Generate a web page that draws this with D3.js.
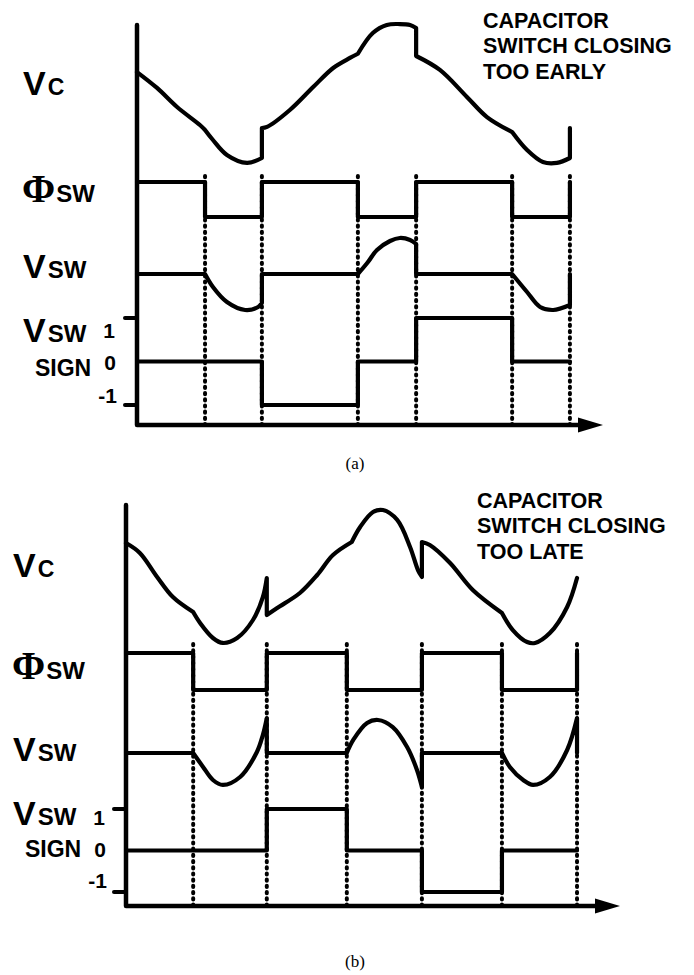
<!DOCTYPE html>
<html><head><meta charset="utf-8">
<script src="https://cdn.jsdelivr.net/npm/d3@7"></script>
<style>body{margin:0;background:#fff}</style>
</head><body>
<svg id="chart" width="694" height="975"></svg>
<script>
// ---------------- DATA ----------------
const timeDomain = [0, 100];
const signTicks = [1, 0, -1];
const signTickLabels = ["1", "0", "-1"];
const captions = ["(a)", "(b)"];
const notesA = ["CAPACITOR", "SWITCH CLOSING", "TOO EARLY"];
const notesB = ["CAPACITOR", "SWITCH CLOSING", "TOO LATE"];

// panel (a): switch closing too early
const switchTimesA = [14.6, 26.8, 47.4, 59.9, 80.5, 92.9];
const phiA = [[0,1],[14.6,0],[26.8,1],[47.4,0],[59.9,1],[80.5,0],[92.9,1]];
const signA = [[0,0],[26.8,-1],[47.4,0],[59.9,1],[80.5,0],[92.9,0]];
const vcA = [
  [[0,0.653],[4.3,0.547],[8.6,0.42],[13.5,0.30],[14.6,0.267]],
  [[14.6,0.267],[16.3,0.20],[19.3,0.10],[23.6,0.047],[26.8,0.08]],
  [[26.8,0.28],[27.9,0.287],[32.8,0.40],[37.8,0.553],[42.1,0.68],[45.7,0.747],[47.4,0.775]],
  [[47.4,0.775],[50.6,0.913],[53.6,0.967],[56.4,0.973],[58.6,0.967],[59.9,0.947]],
  [[59.9,0.76],[65.0,0.667],[70.8,0.487],[75.1,0.353],[80.5,0.253]],
  [[80.5,0.253],[83.7,0.133],[87.1,0.053],[90.1,0.047],[92.9,0.08]],
  [[92.9,0.28]]
];
const vswA = [
  [[0,0],[14.6,0]],
  [[14.6,0],[16.3,-0.087],[19.3,-0.187],[23.2,-0.24],[26.0,-0.22],[26.8,-0.193]],
  [[26.8,0],[47.4,0]],
  [[47.4,0],[49.4,0.073],[51.5,0.16],[54.3,0.22],[56.4,0.24],[58.6,0.227],[59.9,0.2]],
  [[59.9,0],[80.5,0]],
  [[80.5,0],[83.7,-0.12],[86.5,-0.22],[89.3,-0.24],[92.9,-0.207]],
  [[92.9,0]]
];

// panel (b): switch closing too late
const switchTimesB = [13.6, 28.5, 44.7, 59.9, 76.1, 91.3];
const phiB = [[0,1],[13.6,0],[28.5,1],[44.7,0],[59.9,1],[76.1,0],[91.3,1]];
const signB = [[0,0],[28.5,1],[44.7,0],[59.9,-1],[76.1,0],[91.3,0]];
const vcB = [
  [[0,0.713],[2.8,0.647],[6.3,0.487],[9.5,0.353],[13.6,0.253]],
  [[13.6,0.253],[15.0,0.18],[17.6,0.08],[19.6,0.047],[22.5,0.08],[25.7,0.2],[27.7,0.353],[28.5,0.48]],
  [[28.5,0.233],[30.6,0.28],[35.2,0.38],[38.7,0.50],[41.9,0.633],[45.7,0.72]],
  [[45.7,0.72],[47.4,0.82],[50.0,0.92],[52.0,0.933],[54.9,0.867],[57.5,0.687],[59.1,0.533],[59.9,0.487]],
  [[59.9,0.72],[61.5,0.70],[65.6,0.58],[70.2,0.40],[76.1,0.247]],
  [[76.1,0.247],[78.3,0.133],[81.2,0.053],[82.8,0.047],[85.8,0.113],[89.3,0.287],[91.3,0.48]]
];
const vswB = [
  [[0,0],[13.6,0]],
  [[13.6,0],[15.6,-0.093],[17.6,-0.18],[19.6,-0.213],[23.1,-0.16],[26.5,0.007],[27.7,0.12],[28.5,0.233]],
  [[28.5,0],[44.7,0]],
  [[44.7,0],[46.0,0.087],[48.8,0.2],[51.0,0.22],[54.0,0.173],[56.9,0.04],[58.9,-0.113],[59.9,-0.227]],
  [[59.9,0],[76.1,0]],
  [[76.1,0],[77.7,-0.093],[80.4,-0.18],[82.4,-0.213],[85.8,-0.16],[89.3,0.02],[91.3,0.233]],
  [[91.3,0]]
];

// ---------------- DRAW ----------------
const svg = d3.select("#chart");
const SANS = "'Liberation Sans', Arial, sans-serif";
const SERIF = "'Liberation Serif', 'Times New Roman', serif";

function buildPath(segs, x, y) {
  const line = d3.line().x(d => x(d[0])).y(d => y(d[1])).curve(d3.curveCatmullRom.alpha(0.5));
  return segs.map((s, i) => {
    const p = s.length === 1 ? `M${x(s[0][0])},${y(s[0][1])}` : line(s);
    return i ? p.replace(/^M/, "L") : p;
  }).join("");
}

function drawPanel(c) {
  const g = svg.append("g");
  const x = d3.scaleLinear().domain(timeDomain).range([c.x0, c.x1]);
  const yVc = d3.scaleLinear().domain([0, 1]).range(c.vcRange);
  const yVsw = d3.scaleLinear().domain([-1, 1]).range([c.vswBase + 150, c.vswBase - 150]);
  const yPhi = d3.scaleLinear().domain([0, 1]).range(c.phiRange);
  const ySign = d3.scaleLinear().domain([-1, 1]).range(c.signRange);

  // dotted switching lines
  g.selectAll("line.dot").data(c.switchTimes).join("line")
    .attr("x1", d => x(d)).attr("x2", d => x(d))
    .attr("y1", c.dotTop).attr("y2", c.yAxis)
    .attr("stroke", "#000").attr("stroke-width", 4)
    .attr("stroke-linecap", "round").attr("stroke-dasharray", "1.2 5");

  // axes
  g.append("path")
    .attr("d", `M${c.x0},${c.yTop}L${c.x0},${c.yAxis}L${x(timeDomain[1]) - 24},${c.yAxis}`)
    .attr("fill", "none").attr("stroke", "#000").attr("stroke-width", 4.5)
    .attr("stroke-linecap", "round").attr("stroke-linejoin", "round");
  const tip = x(timeDomain[1]);
  g.append("path")
    .attr("d", `M${tip - 25},${c.yAxis - 7.5}L${tip},${c.yAxis}L${tip - 25},${c.yAxis + 7.5}Z`)
    .attr("fill", "#000");

  // sign ticks
  g.selectAll("line.tk").data(signTicks.filter(v => v !== 0)).join("line")
    .attr("x1", c.x0 - 12).attr("x2", c.x0)
    .attr("y1", d => ySign(d)).attr("y2", d => ySign(d))
    .attr("stroke", "#000").attr("stroke-width", 4).attr("stroke-linecap", "round");
  g.selectAll("text.tk").data(signTickLabels).join("text")
    .attr("x", (d, i) => c.tickLabelX[i]).attr("y", (d, i) => c.tickLabelY[i])
    .attr("text-anchor", "end").attr("font-family", SANS).attr("font-weight", "bold")
    .attr("font-size", 21).text(d => d);

  const stroke = sel => sel.attr("fill", "none").attr("stroke", "#000").attr("stroke-width", 4.2)
    .attr("stroke-linejoin", "round").attr("stroke-linecap", "round");

  g.append("path").attr("d", buildPath(c.vc, x, yVc)).call(stroke);
  g.append("path").attr("d", buildPath(c.vsw, x, yVsw)).call(stroke);
  g.append("path").attr("d",
    d3.line().x(d => x(d[0])).y(d => yPhi(d[1])).curve(d3.curveStepAfter)(c.phi)).call(stroke);
  g.append("path").attr("d",
    d3.line().x(d => x(d[0])).y(d => ySign(d[1])).curve(d3.curveStepAfter)(c.sign)).call(stroke);

  // signal labels
  const big = (xx, yy, a, b, sa, sb) => {
    const t = g.append("text").attr("x", xx).attr("y", yy)
      .attr("font-family", SANS).attr("font-weight", "bold");
    t.append("tspan").attr("font-size", sa).text(a);
    t.append("tspan").attr("font-size", sb).attr("dx", 2).text(b);
  };
  big(c.lx, c.vcLabelY, "V", "C", 34, 23);
  big(c.lx, c.vswLabelY, "V", "SW", 34, 24);
  big(c.lx, c.sgnLabelY, "V", "SW", 34, 24);
  const phiT = g.append("text").attr("x", c.lx - 1).attr("y", c.phiLabelY).attr("font-weight", "bold");
  phiT.append("tspan").attr("font-family", SERIF).attr("font-size", 40).text("Φ");
  phiT.append("tspan").attr("font-family", SANS).attr("font-size", 24).attr("dx", 1).text("SW");
  g.append("text").attr("x", c.lx + 12).attr("y", c.signWordY)
    .attr("font-family", SANS).attr("font-weight", "bold").attr("font-size", 23).text("SIGN");

  // note
  g.selectAll("text.note").data(c.notes).join("text")
    .attr("x", c.noteX).attr("y", (d, i) => c.noteY + i * 25.3)
    .attr("font-family", SANS).attr("font-weight", "bold").attr("font-size", 21.5).text(d => d);

  // caption
  g.append("text").attr("x", 355).attr("y", c.captionY).attr("text-anchor", "middle")
    .attr("font-family", SERIF).attr("font-size", 17).text(c.caption);
}

drawPanel({
  x0: 137, x1: 603, yTop: 25, yAxis: 425, dotTop: 176,
  vcRange: [170, 20], vswBase: 274, phiRange: [217, 182], signRange: [405, 318],
  switchTimes: switchTimesA, phi: phiA, sign: signA, vc: vcA, vsw: vswA,
  tickLabelX: [115, 116, 117], tickLabelY: [338, 370, 403],
  lx: 23, vcLabelY: 95, phiLabelY: 202, vswLabelY: 278, sgnLabelY: 342, signWordY: 376,
  notes: notesA, noteX: 483, noteY: 28, caption: captions[0], captionY: 469
});
drawPanel({
  x0: 126, x1: 620, yTop: 505, yAxis: 906, dotTop: 644,
  vcRange: [650, 500], vswBase: 753, phiRange: [690, 653], signRange: [892, 809],
  switchTimes: switchTimesB, phi: phiB, sign: signB, vc: vcB, vsw: vswB,
  tickLabelX: [105, 106, 107], tickLabelY: [825, 857, 888],
  lx: 13, vcLabelY: 577, phiLabelY: 679, vswLabelY: 761, sgnLabelY: 825, signWordY: 857,
  notes: notesB, noteX: 477, noteY: 508, caption: captions[1], captionY: 967
});
</script>
</body></html>
